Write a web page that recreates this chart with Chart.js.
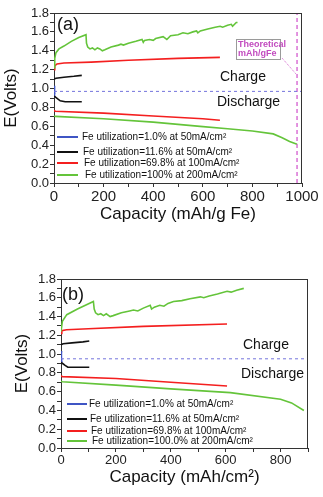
<!DOCTYPE html>
<html>
<head>
<meta charset="utf-8">
<script src="https://cdn.jsdelivr.net/npm/chart.js@4.4.1/dist/chart.umd.min.js"></script>
<style>
body { margin:0; background:#fff; width:323px; height:497px; overflow:hidden; position:relative; }
#boxA { position:absolute; left:0; top:0; width:323px; height:232px; }
#boxB { position:absolute; left:0; top:266px; width:323px; height:231px; }
</style>
</head>
<body>
<div id="boxA"><canvas id="chartA"></canvas></div>
<div id="boxB"><canvas id="chartB"></canvas></div>
<script>
// ---- data: [capacity, volts] ----
// panel (a), capacity in mAh/g Fe
var aBlueCharge = [[0,0.95],[1,0.99],[2,1.02],[4,1.03]];
var aBlueDischarge = [[0,0.95],[1,0.93],[3,0.92],[5,0.91]];
var aBlackCharge = [[0,1.10],[8,1.11],[40,1.12],[80,1.13],[112,1.14]];
var aBlackDischarge = [[0,0.92],[6,0.91],[15,0.89],[25,0.87],[45,0.86],[112,0.86]];
var aRedCharge = [[0,1.20],[3,1.24],[12,1.26],[40,1.27],[150,1.28],[300,1.30],[500,1.32],[669,1.33]];
var aRedDischarge = [[0,0.77],[5,0.76],[200,0.74],[400,0.71],[600,0.68],[669,0.665]];
var aGreenCharge = [[0,1.22],[3,1.32],[8,1.38],[20,1.42],[40,1.45],[70,1.50],[100,1.54],[129,1.57],
  [131,1.48],[136,1.44],[145,1.42],[155,1.43],[165,1.41],[175,1.43],[185,1.42],[195,1.40],[205,1.41],
  [230,1.44],[260,1.46],[270,1.47],[280,1.46],[300,1.48],[330,1.50],[355,1.52],[360,1.49],[365,1.51],
  [385,1.52],[400,1.51],[410,1.53],[440,1.55],[455,1.52],[470,1.56],[500,1.57],[520,1.59],[540,1.58],
  [560,1.60],[575,1.61],[580,1.59],[590,1.61],[620,1.63],[650,1.65],[670,1.66],[680,1.65],[700,1.67],
  [715,1.68],[720,1.66],[735,1.70],[740,1.70]];
var aGreenDischarge = [[0,0.71],[5,0.705],[200,0.68],[400,0.645],[589,0.60],[700,0.575],[800,0.55],
  [884,0.52],[920,0.48],[950,0.44],[980,0.41]];
var aDivide = 0.97;
var aTheoretical = 980;

// panel (b), capacity in mAh/cm2
var bBlueCharge = [[0,0.95],[1,0.99],[2,1.02],[4,1.03]];
var bBlueDischarge = [[0,0.95],[1,0.93],[3,0.92],[5,0.91]];
var bBlackCharge = [[0,1.10],[8,1.11],[40,1.12],[80,1.13],[103,1.14]];
var bBlackDischarge = [[0,0.91],[6,0.90],[15,0.88],[25,0.86],[45,0.86],[103,0.86]];
var bRedCharge = [[0,1.22],[3,1.25],[20,1.26],[100,1.27],[300,1.295],[605,1.32]];
var bRedDischarge = [[0,0.77],[5,0.76],[200,0.74],[400,0.70],[605,0.66]];
var bGreenCharge = [[0,1.24],[5,1.35],[21,1.42],[60,1.48],[118,1.56],[121,1.48],[126,1.44],[135,1.42],
  [145,1.43],[155,1.41],[165,1.43],[179,1.40],[190,1.41],[220,1.44],[250,1.46],[264,1.47],[280,1.46],
  [300,1.49],[325,1.52],[330,1.48],[340,1.50],[360,1.52],[375,1.51],[390,1.54],[410,1.56],[440,1.57],
  [470,1.59],[508,1.61],[520,1.60],[540,1.62],[570,1.64],[605,1.67],[620,1.66],[640,1.68],[666,1.70]];
var bGreenDischarge = [[0,0.71],[5,0.705],[200,0.67],[400,0.63],[617,0.59],[800,0.52],[840,0.48],[885,0.40]];
var bDivide = 0.95;

var legendA = ['Fe utilization=1.0% at 50mA/cm²', 'Fe utilization=11.6% at 50mA/cm²',
  'Fe utilization=69.8% at 100mA/cm²', 'Fe utilization=100% at 200mA/cm²'];
var legendB = ['Fe utilization=1.0% at 50mA/cm²', 'Fe utilization=11.6% at 50mA/cm²',
  'Fe utilization=69.8% at 100mA/cm²', 'Fe utilization=100.0% at 200mA/cm²'];

var FONT = '"Liberation Sans", Arial, sans-serif';
var BLUE = '#3f55c4', BLACK = '#111111', RED = '#f41f1f', GREEN = '#64c43a';
var seriesColors = [BLUE, BLACK, RED, GREEN];

function line(pts, color, dash, width) {
  return {
    data: pts.map(function(p) { return {x: p[0], y: p[1]}; }),
    borderColor: color, borderWidth: width || 1.6, borderDash: dash || [],
    pointRadius: 0, tension: 0, fill: false
  };
}

// overlay: box, labels, legend
var decoPlugin = {
  id: 'deco',
  afterDatasetsDraw: function(chart, args, o) {
    var ctx = chart.ctx, a = chart.chartArea;
    ctx.save();
    ctx.strokeStyle = '#333';
    ctx.lineWidth = 1;
    ctx.beginPath();
    ctx.moveTo(a.left, a.top + 0.5); ctx.lineTo(a.right, a.top + 0.5);
    ctx.moveTo(a.right - 0.5, a.top); ctx.lineTo(a.right - 0.5, a.bottom);
    ctx.stroke();

    ctx.fillStyle = '#111';
    ctx.textBaseline = 'middle';
    ctx.textAlign = 'left';
    ctx.font = '18px ' + FONT;
    ctx.fillText(o.panel, o.panelPos[0], o.panelPos[1]);
    ctx.font = '14px ' + FONT;
    ctx.fillText('Charge', o.charge[0], o.charge[1]);
    ctx.fillText('Discharge', o.discharge[0], o.discharge[1]);

    ctx.font = '10px ' + FONT;
    for (var i = 0; i < o.legend.length; i++) {
      var y = o.legendY[i];
      ctx.strokeStyle = seriesColors[i];
      ctx.lineWidth = 2;
      ctx.beginPath();
      ctx.moveTo(o.legendX[0], y); ctx.lineTo(o.legendX[1], y);
      ctx.stroke();
      ctx.fillStyle = '#111';
      ctx.fillText(o.legend[i], o.legendX[2] + i, y);
    }

    if (o.theo) {
      var t = o.theo;
      ctx.strokeStyle = '#9a9a9a';
      ctx.lineWidth = 1;
      ctx.strokeRect(t[0] + 0.5, t[1] + 0.5, t[2], t[3]);
      ctx.fillStyle = '#c24bbf';
      ctx.font = 'bold 9px ' + FONT;
      ctx.fillText('Theoretical', t[0] + 2, t[1] + 6);
      ctx.fillText('mAh/gFe', t[0] + 2, t[1] + 15);
      ctx.strokeStyle = '#d56ad0';
      ctx.setLineDash([1, 1]);
      ctx.beginPath();
      ctx.moveTo(t[0] + t[2] + 2, t[1] + t[3] - 1);
      ctx.lineTo(t[4], t[5]);
      ctx.stroke();
    }
    ctx.restore();
  }
};

function makeChart(id, sets, xmax, xTitle, xFont, yWidth, xHeight, pad, titlePad, yTitlePad, deco) {
  return new Chart(document.getElementById(id), {
    type: 'line',
    data: { datasets: sets },
    options: {
      responsive: true, maintainAspectRatio: false, animation: false,
      layout: { padding: pad },
      plugins: { legend: { display: false }, tooltip: { enabled: false }, deco: deco },
      scales: {
        x: {
          type: 'linear', min: 0, max: xmax,
          afterFit: function(s) { s.height = xHeight; },
          ticks: { stepSize: 100, autoSkip: false, maxRotation: 0, padding: 1, color: '#222',
            font: { family: FONT, size: xFont },
            callback: function(v) { return v % 200 === 0 ? v : ''; } },
          grid: { drawOnChartArea: false, tickLength: 4, tickColor: '#333' },
          border: { color: '#333', width: 1 },
          title: { display: true, text: xTitle, color: '#111',
            font: { family: FONT, size: 17 }, padding: { top: 0, bottom: titlePad } }
        },
        y: {
          min: 0, max: 1.8,
          afterFit: function(s) { s.width = yWidth; },
          ticks: { stepSize: 0.1, autoSkip: false, padding: 1, color: '#222',
            font: { family: FONT, size: 13 },
            callback: function(v) { return Math.round(v * 10) % 2 === 0 ? v.toFixed(1) : ''; } },
          grid: { drawOnChartArea: false, tickLength: 4, tickColor: '#333' },
          border: { color: '#333', width: 1 },
          title: { display: true, text: 'E(Volts)', color: '#111',
            font: { family: FONT, size: 17 }, padding: { top: yTitlePad, bottom: 0 } }
        }
      }
    },
    plugins: [decoPlugin]
  });
}

var setsA = [
  line([[0, aDivide], [1000, aDivide]], '#7474dc', [3, 3], 1),
  line([[aTheoretical, 0], [aTheoretical, 1.8]], '#d45ccf', [4, 3], 1.3),
  line(aGreenCharge, GREEN), line(aGreenDischarge, GREEN),
  line(aRedCharge, RED), line(aRedDischarge, RED),
  line(aBlackCharge, BLACK), line(aBlackDischarge, BLACK),
  line(aBlueCharge, BLUE), line(aBlueDischarge, BLUE)
];
var setsB = [
  line([[0, bDivide], [900, bDivide]], '#7474dc', [3, 3], 1),
  line(bGreenCharge, GREEN), line(bGreenDischarge, GREEN),
  line(bRedCharge, RED), line(bRedDischarge, RED),
  line(bBlackCharge, BLACK), line(bBlackDischarge, BLACK),
  line(bBlueCharge, BLUE), line(bBlueDischarge, BLUE)
];

makeChart('chartA', setsA, 1000, 'Capacity (mAh/g Fe)', 15, 54, 49,
  { top: 13, right: 21, left: 0, bottom: 0 }, 7, 1,
  { panel: '(a)', panelPos: [57, 25], charge: [220, 77], discharge: [217, 102],
    legend: legendA, legendX: [57, 78, 82], legendY: [137, 152, 163, 175],
    theo: [236, 39, 44, 20, 296, 74] });

// panel b canvas starts at page y 266
makeChart('chartB', setsB, 900, 'Capacity (mAh/cm²)', 13, 61, 49,
  { top: 13, right: 15, left: 0, bottom: 0 }, 9, 12,
  { panel: '(b)', panelPos: [62, 29], charge: [243, 79], discharge: [241, 108],
    legend: legendB, legendX: [67, 87, 89], legendY: [138, 153, 165, 175] });
</script>
</body>
</html>
